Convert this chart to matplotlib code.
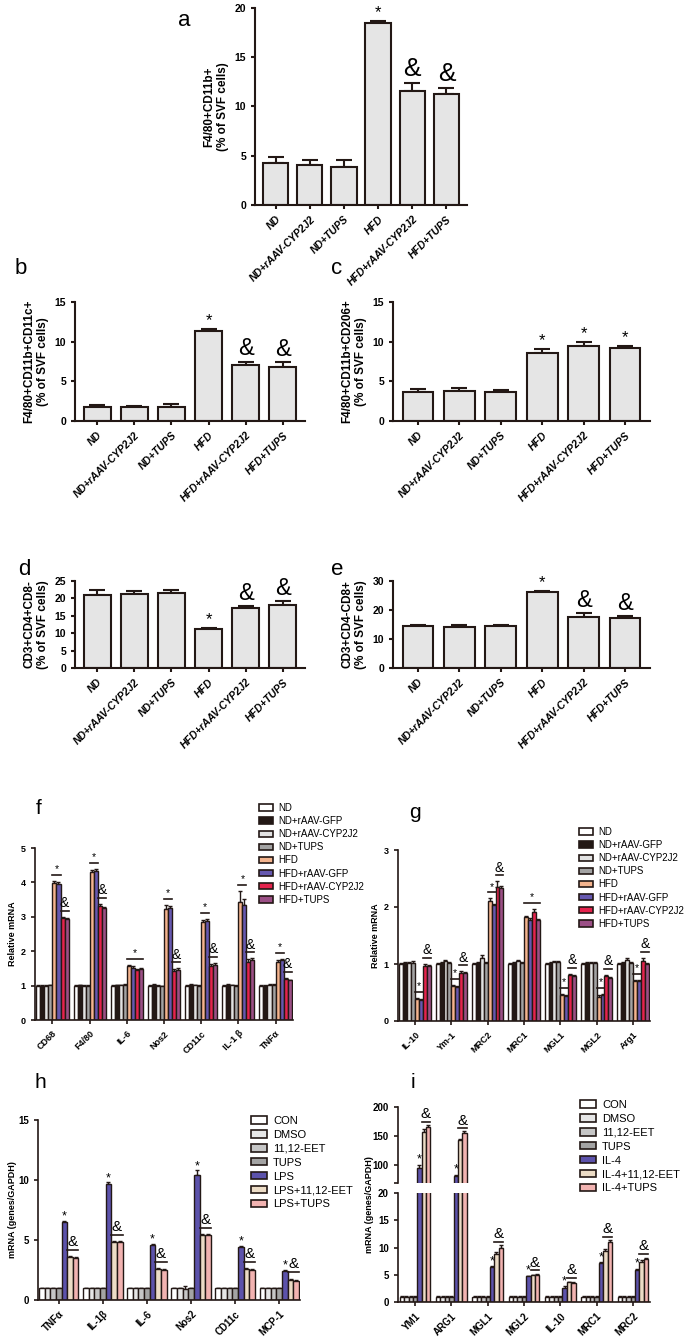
import matplotlib
matplotlib.use("Agg")
import matplotlib.pyplot as plt
from matplotlib.patches import Patch
import numpy as np

W, H = 697, 1342
plt.rcParams['font.family'] = ['Liberation Sans', 'DejaVu Sans']
EDGE = '#231815'

# ---------------- panels a-e (flow cytometry) ----------------
groups_ae = ["ND", "ND+rAAV-CYP2J2", "ND+TUPS", "HFD", "HFD+rAAV-CYP2J2", "HFD+TUPS"]

a_vals = [4.3, 4.1, 3.9, 18.5, 11.6, 11.3]
a_err = [0.6, 0.5, 0.7, 0.2, 0.8, 0.6]
a_marks = ["", "", "", "*", "&", "&"]

b_vals = [1.8, 1.75, 1.75, 11.3, 7.1, 6.8]
b_err = [0.2, 0.2, 0.4, 0.3, 0.4, 0.6]
b_marks = ["", "", "", "*", "&", "&"]

c_vals = [3.6, 3.8, 3.6, 8.6, 9.4, 9.2]
c_err = [0.4, 0.3, 0.3, 0.5, 0.6, 0.3]
c_marks = ["", "", "", "*", "*", "*"]

d_vals = [21.1, 21.2, 21.6, 11.3, 17.3, 18.2]
d_err = [1.2, 1.0, 0.8, 0.2, 0.6, 1.0]
d_marks = ["", "", "", "*", "&", "&"]

e_vals = [14.6, 14.0, 14.6, 26.1, 17.7, 17.1]
e_err = [0.3, 1.0, 0.3, 0.6, 1.4, 1.0]
e_marks = ["", "", "", "*", "&", "&"]

# ---------------- panels f, g (mouse tissue mRNA) ----------------
series_fg = ["ND", "ND+rAAV-GFP", "ND+rAAV-CYP2J2", "ND+TUPS",
             "HFD", "HFD+rAAV-GFP", "HFD+rAAV-CYP2J2", "HFD+TUPS"]
colors_fg = ["#ffffff", "#231815", "#e2e2e2", "#a3a3a3",
             "#f4b48e", "#6658b0", "#e5234d", "#9b4f86"]

genes_f = ["CD68", "F4/80", "IL-6", "Nos2", "CD11c", "IL-1 β", "TNFα"]
f_vals = [
    [1.00, 1.00, 1.00, 1.00, 1.00, 1.00, 1.00],
    [1.00, 1.01, 1.01, 1.03, 1.02, 1.02, 1.00],
    [0.99, 1.00, 1.01, 1.00, 1.01, 1.01, 1.02],
    [1.01, 1.00, 1.02, 0.98, 1.00, 1.00, 1.02],
    [3.97, 4.31, 1.56, 3.22, 2.85, 3.42, 1.70],
    [3.96, 4.33, 1.52, 3.27, 2.88, 3.35, 1.73],
    [2.96, 3.31, 1.45, 1.42, 1.57, 1.70, 1.19],
    [2.94, 3.26, 1.47, 1.45, 1.60, 1.75, 1.15],
]
f_err = [
    [0.01, 0.01, 0.01, 0.01, 0.01, 0.01, 0.01],
    [0.03, 0.02, 0.02, 0.02, 0.02, 0.02, 0.02],
    [0.02, 0.01, 0.02, 0.02, 0.02, 0.02, 0.02],
    [0.02, 0.02, 0.02, 0.02, 0.02, 0.02, 0.02],
    [0.08, 0.04, 0.05, 0.12, 0.05, 0.33, 0.04],
    [0.04, 0.06, 0.04, 0.04, 0.06, 0.16, 0.04],
    [0.04, 0.06, 0.04, 0.05, 0.05, 0.06, 0.03],
    [0.03, 0.03, 0.03, 0.05, 0.05, 0.04, 0.02],
]
f_marks = [(0, 4, 5, "*"), (0, 6, 7, "&"), (1, 4, 5, "*"), (1, 6, 7, "&"),
           (2, 4, 7, "*"), (3, 4, 5, "*"), (3, 6, 7, "&"), (4, 4, 5, "*"),
           (4, 6, 7, "&"), (5, 4, 5, "*"), (5, 6, 7, "&"), (6, 4, 5, "*"),
           (6, 6, 7, "&")]

genes_g = ["IL-10", "Ym-1", "MRC2", "MRC1", "MGL1", "MGL2", "Arg1"]
g_vals = [
    [1.00, 1.00, 1.00, 1.00, 1.00, 1.00, 1.00],
    [1.02, 1.02, 1.02, 1.02, 1.02, 1.02, 1.02],
    [1.02, 1.05, 1.10, 1.05, 1.03, 1.02, 1.07],
    [1.02, 1.02, 1.02, 1.02, 1.03, 1.02, 1.02],
    [0.38, 0.62, 2.10, 1.82, 0.45, 0.42, 0.70],
    [0.37, 0.60, 2.03, 1.78, 0.43, 0.45, 0.70],
    [0.97, 0.85, 2.35, 1.92, 0.80, 0.79, 1.06],
    [0.96, 0.84, 2.33, 1.77, 0.79, 0.76, 1.00],
]
g_err = [
    [0.01, 0.01, 0.01, 0.01, 0.01, 0.01, 0.01],
    [0.02, 0.02, 0.02, 0.02, 0.02, 0.02, 0.02],
    [0.02, 0.02, 0.05, 0.02, 0.02, 0.02, 0.03],
    [0.03, 0.02, 0.02, 0.02, 0.02, 0.02, 0.02],
    [0.03, 0.02, 0.05, 0.03, 0.02, 0.03, 0.02],
    [0.02, 0.02, 0.02, 0.02, 0.02, 0.02, 0.02],
    [0.03, 0.02, 0.10, 0.05, 0.03, 0.02, 0.05],
    [0.02, 0.02, 0.03, 0.02, 0.02, 0.02, 0.02],
]
g_marks = [(0, 4, 5, "*"), (0, 6, 7, "&"), (1, 4, 5, "*"), (1, 6, 7, "&"),
           (2, 4, 5, "*"), (2, 6, 7, "&"), (3, 4, 7, "*"), (4, 4, 5, "*"),
           (4, 6, 7, "&"), (5, 4, 5, "*"), (5, 6, 7, "&"), (6, 4, 5, "*"),
           (6, 6, 7, "&")]

# ---------------- panels h, i (cell culture mRNA) ----------------
colors_hi = ["#ffffff", "#e6e6e6", "#c6c6c6", "#a4a4a4",
             "#5c52ab", "#ecdcc6", "#f2b3b1"]
series_h = ["CON", "DMSO", "11,12-EET", "TUPS", "LPS", "LPS+11,12-EET", "LPS+TUPS"]
genes_h = ["TNFα", "IL-1β", "IL-6", "Nos2", "CD11c", "MCP-1"]
h_vals = [
    [1.0, 1.0, 1.0, 1.0, 1.0, 1.0],
    [1.0, 1.0, 1.0, 1.0, 1.0, 1.0],
    [1.0, 1.0, 1.0, 0.9, 1.0, 1.0],
    [1.0, 1.0, 1.0, 1.0, 1.0, 1.0],
    [6.5, 9.7, 4.6, 10.4, 4.4, 2.4],
    [3.6, 4.8, 2.6, 5.4, 2.6, 1.7],
    [3.5, 4.8, 2.5, 5.4, 2.5, 1.6],
]
h_err = [
    [0.03, 0.03, 0.03, 0.03, 0.03, 0.03],
    [0.03, 0.03, 0.03, 0.03, 0.03, 0.03],
    [0.03, 0.03, 0.03, 0.30, 0.03, 0.03],
    [0.03, 0.03, 0.03, 0.03, 0.03, 0.03],
    [0.10, 0.10, 0.10, 0.40, 0.10, 0.10],
    [0.08, 0.08, 0.08, 0.08, 0.08, 0.08],
    [0.08, 0.08, 0.08, 0.08, 0.08, 0.08],
]
h_marks = [(g, 4, 4, "*") for g in range(6)] + [(g, 5, 6, "&") for g in range(6)]

series_i = ["CON", "DMSO", "11,12-EET", "TUPS", "IL-4", "IL-4+11,12-EET", "IL-4+TUPS"]
genes_i = ["YM1", "ARG1", "MGL1", "MGL2", "IL-10", "MRC1", "MRC2"]
i_vals = [
    [1.0, 1.0, 1.0, 1.0, 1.0, 1.0, 1.0],
    [1.0, 1.0, 1.0, 1.0, 1.0, 1.0, 1.0],
    [1.0, 1.0, 1.0, 1.0, 1.0, 1.0, 1.0],
    [1.0, 1.0, 1.0, 1.0, 1.0, 1.0, 1.0],
    [95, 82, 6.4, 4.7, 2.5, 7.1, 5.8],
    [157, 143, 8.8, 4.9, 3.6, 9.4, 7.4],
    [165, 156, 9.9, 5.0, 3.5, 11.0, 7.8],
]
i_err = [
    [0.05, 0.05, 0.05, 0.05, 0.05, 0.05, 0.05],
    [0.05, 0.05, 0.05, 0.05, 0.05, 0.05, 0.05],
    [0.05, 0.05, 0.05, 0.05, 0.05, 0.05, 0.05],
    [0.05, 0.05, 0.05, 0.05, 0.05, 0.05, 0.05],
    [6, 2, 0.2, 0.1, 0.4, 0.2, 0.3],
    [5, 2, 0.3, 0.1, 0.1, 0.3, 0.3],
    [5, 3, 0.5, 0.1, 0.1, 0.3, 0.3],
]
i_marks = [(g, 4, 4, "*") for g in range(7)] + [(g, 5, 6, "&") for g in range(7)]


fig = plt.figure(figsize=(W / 100, H / 100), dpi=100)


def px_axes(x0, y0, x1, y1):
    return fig.add_axes([x0 / W, 1 - y1 / H, (x1 - x0) / W, (y1 - y0) / H])


def style_axes(ax, lw=1.5):
    for s in ["top", "right"]:
        ax.spines[s].set_visible(False)
    for s in ["left", "bottom"]:
        ax.spines[s].set_linewidth(lw)
        ax.spines[s].set_color(EDGE)
    ax.tick_params(direction="out", length=3, width=lw, color=EDGE)


def letter(x, y, s, size=16):
    fig.text(x / W, 1 - y / H, s, fontsize=size, ha="left", va="center")


def simple_panel(box, vals, errs, marks, ymax, ystep, ylabel, amp_size=17):
    ax = px_axes(*box)
    x = np.arange(len(vals))
    ax.bar(x, vals, width=0.74, color="#e5e5e5", edgecolor=EDGE, linewidth=1.5, zorder=2)
    ax.errorbar(x, vals, yerr=[np.zeros(len(errs)), errs], fmt="none", ecolor=EDGE,
                elinewidth=1.5, capsize=6, capthick=1.5, zorder=1)
    for xi, v, e, m in zip(x, vals, errs, marks):
        if m == "*":
            ax.text(xi, v + e + ymax * 0.005, "*", ha="center", va="bottom", fontsize=12)
        elif m == "&":
            ax.text(xi, v + e + ymax * 0.01, "&", ha="center", va="bottom", fontsize=amp_size)
    ax.set_xlim(-0.6, len(vals) - 0.4)
    ax.set_ylim(0, ymax)
    ax.set_yticks(np.arange(0, ymax + 0.1, ystep))
    ax.set_xticks(x)
    ax.set_xticklabels(groups_ae, rotation=45, ha="right", rotation_mode="anchor",
                       fontsize=7.5, fontweight="bold", style="italic")
    ax.tick_params(axis="y", labelsize=7.5)
    for t in ax.get_yticklabels():
        t.set_fontweight("bold")
    ax.set_ylabel(ylabel, fontsize=8.5, fontweight="bold", labelpad=4)
    style_axes(ax)
    return ax


simple_panel((255, 8, 467, 205), a_vals, a_err, a_marks, 20, 5,
             "F4/80+CD11b+\n(% of SVF cells)", amp_size=19)
letter(178, 20, "a")
simple_panel((75, 302, 305, 421), b_vals, b_err, b_marks, 15, 5,
             "F4/80+CD11b+CD11c+\n(% of SVF cells)")
letter(15, 268, "b")
simple_panel((393, 302, 650, 421), c_vals, c_err, c_marks, 15, 5,
             "F4/80+CD11b+CD206+\n(% of SVF cells)")
letter(331, 268, "c")
simple_panel((75, 581, 305, 668), d_vals, d_err, d_marks, 25, 5,
             "CD3+CD4+CD8-\n(% of SVF cells)")
letter(18, 570, "d")
simple_panel((393, 581, 650, 668), e_vals, e_err, e_marks, 30, 10,
             "CD3+CD4-CD8+\n(% of SVF cells)")
letter(331, 570, "e")


def grouped(ax, genes, vals, errs, colors, bw, marks, ylim, star_size, amp_size,
            lw=1.0, show_marks=True):
    ns = len(vals)
    offs = (np.arange(ns) - (ns - 1) / 2) * bw
    xg = np.arange(len(genes))
    for s in range(ns):
        ax.bar(xg + offs[s], vals[s], width=bw, color=colors[s], edgecolor=EDGE,
               linewidth=lw, zorder=2)
        ax.errorbar(xg + offs[s], vals[s], yerr=[np.zeros(len(genes)), errs[s]],
                    fmt="none", ecolor=EDGE, elinewidth=lw, capsize=1.2,
                    capthick=lw, zorder=1)
    rng = ylim[1] - ylim[0]
    if show_marks:
        for g, s0, s1, sym in marks:
            top = max(vals[s][g] + errs[s][g] for s in range(s0, s1 + 1))
            if top < ylim[0] or top > ylim[1]:
                continue
            x0 = g + offs[s0] - bw / 2
            x1 = g + offs[s1] + bw / 2
            y = top + rng * 0.035
            if s1 > s0:
                ax.plot([x0, x1], [y, y], color=EDGE, lw=1.2, zorder=3)
                ax.text((x0 + x1) / 2, y + rng * 0.005, sym, ha="center", va="bottom",
                        fontsize=amp_size if sym == "&" else star_size)
            else:
                ax.text((x0 + x1) / 2, top - rng * 0.01, sym, ha="center", va="bottom",
                        fontsize=star_size)
    ax.set_ylim(*ylim)
    ax.set_xlim(-0.47, len(genes) - 0.53)
    return xg


def legend(x, y, labels, colors, size, spacing):
    handles = [Patch(facecolor=c, edgecolor=EDGE, linewidth=1.2) for c in colors]
    fig.legend(handles, labels, loc="upper left", bbox_to_anchor=(x / W, 1 - y / H),
               frameon=False, fontsize=size, handlelength=1.4, handleheight=0.65,
               labelspacing=spacing, borderpad=0, borderaxespad=0, handletextpad=0.6)


def finish_mrna(ax, xg, genes, ylabel, ticks, fs_tick, fs_lab, pad=3):
    ax.set_xticks(xg)
    ax.set_xticklabels(genes, rotation=45, ha="right", rotation_mode="anchor",
                       fontsize=fs_tick, fontweight="bold")
    ax.set_yticks(ticks)
    ax.tick_params(axis="y", labelsize=fs_tick)
    for t in ax.get_yticklabels():
        t.set_fontweight("bold")
    ax.set_ylabel(ylabel, fontsize=fs_lab, fontweight="bold", labelpad=pad)
    style_axes(ax, lw=1.2)


# f
ax_f = px_axes(35, 848, 293, 1020)
xg = grouped(ax_f, genes_f, f_vals, f_err, colors_fg, 0.108, f_marks, (0, 5), 7.5, 10)
finish_mrna(ax_f, xg, genes_f, "Relative mRNA", [0, 1, 2, 3, 4, 5], 6.5, 6.5)
letter(36, 808, "f", 15)
legend(259, 803, series_fg, colors_fg, 7, 0.32)

# g
ax_g = px_axes(398, 850, 650, 1021)
xg = grouped(ax_g, genes_g, g_vals, g_err, colors_fg, 0.108, g_marks, (0, 3), 7.5, 10)
finish_mrna(ax_g, xg, genes_g, "Relative mRNA", [0, 1, 2, 3], 6.5, 6.5)
letter(409, 812, "g", 15)
legend(579, 827, series_fg, colors_fg, 7, 0.32)

# h
ax_h = px_axes(38, 1120, 300, 1300)
xg = grouped(ax_h, genes_h, h_vals, h_err, colors_hi, 0.128, h_marks, (0, 15), 9, 11)
finish_mrna(ax_h, xg, genes_h, "mRNA (genes/GAPDH)", [0, 5, 10, 15], 7, 6.5, pad=1)
letter(34, 1083, "h", 15)
legend(251, 1116, series_h, colors_hi, 8, 0.35)

# i  (broken y axis)
ax_iu = px_axes(398, 1107, 650, 1183)
ax_il = px_axes(398, 1193, 650, 1302)
grouped(ax_iu, genes_i, i_vals, i_err, colors_hi, 0.12, i_marks, (70, 200), 9, 11)
xg = grouped(ax_il, genes_i, i_vals, i_err, colors_hi, 0.12, i_marks, (0, 20), 9, 11)
finish_mrna(ax_il, xg, genes_i, "", [0, 5, 10, 15, 20], 7, 7)
style_axes(ax_iu, lw=1.2)
ax_iu.spines["bottom"].set_visible(False)
ax_iu.set_xticks([])
ax_iu.set_yticks([70, 100, 150, 200], ["", "100", "150", "200"])
ax_iu.tick_params(axis="y", labelsize=7)
for t in ax_iu.get_yticklabels():
    t.set_fontweight("bold")
fig.text(370 / W, 1 - 1205 / H, "mRNA (genes/GAPDH)", rotation=90, fontsize=6.5,
         fontweight="bold", ha="center", va="center")
letter(411, 1083, "i", 15)
legend(580, 1100, series_i, colors_hi, 8, 0.35)

fig.savefig("out.png", dpi=100)
